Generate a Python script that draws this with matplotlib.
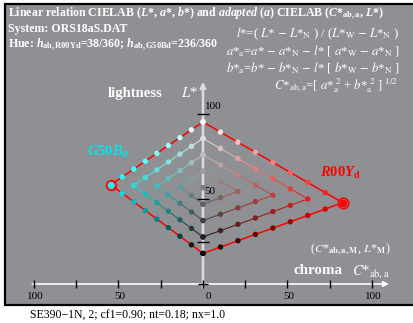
import numpy as np
import matplotlib.pyplot as plt
from matplotlib.patches import Rectangle

plt.rcParams['font.family'] = ['Liberation Serif', 'DejaVu Serif']
plt.rcParams['mathtext.fontset'] = 'custom'
plt.rcParams['mathtext.rm'] = 'Liberation Serif:weight=bold'
plt.rcParams['mathtext.bf'] = 'Liberation Serif:weight=bold'
plt.rcParams['mathtext.it'] = 'Liberation Serif:weight=bold:style=italic'

# hue vertices (C*ab,a , L*)
hue_names = ["R00Yd", "G50Bd"]
hue_C = [82.7, -54.6]
hue_L = [47.8, 58.4]
hue_rgb = [(1.0, 0.0, 0.0), (0.0, 1.0, 1.0)]
L_white = 95.3
L_black = 18.0
nsteps = 4

x_ticks = [-100, -75, -50, -25, 0, 25, 50, 75, 100]
x_labels = ["100", "", "50", "", "0", "", "50", "", "100"]
y_ticks = [25, 50, 100]
y_labels = ["", "50", "100"]

BG = '#8f9094'
W, H = 413, 323


def main():
    fig = plt.figure(figsize=(W / 100, H / 100), dpi=100)
    fig.patch.set_facecolor('white')
    ax = fig.add_axes([0, 0, 1, 1])
    ax.set_xlim(-203 / 1.69, (W - 203) / 1.69)
    ax.set_ylim((284 - H) / 1.7, 284 / 1.7)
    ax.axis('off')

    # grey frame
    ax.add_patch(Rectangle((-117.2, -12.4), 250, 177.1, facecolor=BG,
                           edgecolor='black', lw=1.6, zorder=0))

    # axes
    ax.annotate('', xy=(110, 0), xytext=(-101, 0),
                arrowprops=dict(arrowstyle='-|>', color='white', lw=1.2,
                                mutation_scale=8, shrinkA=0, shrinkB=0), zorder=1)
    ax.annotate('', xy=(0, 119), xytext=(0, -2),
                arrowprops=dict(arrowstyle='-|>', color='#dcdcdc', lw=1.8,
                                mutation_scale=8, shrinkA=0, shrinkB=0), zorder=1)
    ax.plot(x_ticks, np.zeros(len(x_ticks)), '|', color='black', ms=6, mew=1, zorder=2)
    ax.plot([0], [0], '_', color='black', ms=7, mew=1, zorder=2)
    for t, s in zip(x_ticks, x_labels):
        if s:
            ax.text(t + (3 if t == 0 else 1), -7.5, s, ha='center', va='center',
                    fontsize=8, color='black')
    ax.plot(np.zeros(len(y_ticks)), y_ticks, '_', color='black', ms=8, mew=1, zorder=4)
    for t, s in zip(y_ticks, y_labels):
        if s:
            ax.text(1.0, t + 4.5, s, ha='left', va='center', fontsize=8, color='black')

    # point grids for the two hues
    L_mid = (L_white + L_black) / 2
    g = np.array([0.0, L_mid])
    wv = np.array([0.0, L_white]) - g
    for C, L, rgb in zip(hue_C, hue_L, hue_rgb):
        hv = np.array([C, L]) - g
        rgb = np.array(rgb)

        def pt(s, t):
            return g + s * hv + t * wv

        def col(s, t):
            return np.clip(0.5 + s * (rgb - 0.5) + t * 0.5, 0, 1)

        pts, cols = [pt(0, 0)], [col(0, 0)]
        for k in range(1, nsteps + 1):
            n = 2 * k
            top = [(m / (2 * nsteps), k / nsteps - m / (2 * nsteps)) for m in range(n + 1)]
            bot = [(k / nsteps - m / (2 * nsteps), -m / (2 * nsteps)) for m in range(1, n + 1)]
            path = top + bot
            xy = np.array([pt(s, t) for s, t in path])
            if k == nsteps:
                ax.plot(xy[:, 0], xy[:, 1], color='red', lw=1.1, zorder=3)
            else:
                for i in range(len(path) - 1):
                    s = (path[i][0] + path[i + 1][0]) / 2
                    t = (path[i][1] + path[i + 1][1]) / 2
                    ax.plot(xy[i:i + 2, 0], xy[i:i + 2, 1], color=col(s, t), lw=0.8, zorder=3)
            for s, t in path:
                pts.append(pt(s, t))
                cols.append(col(s, t))
        pts = np.array(pts)
        ax.scatter(pts[:, 0], pts[:, 1], s=15, c=cols, linewidths=0, zorder=5)

    # hue vertex markers
    ax.plot(hue_C[0], hue_L[0], 'o', ms=7.5, mfc='none', mec='red', mew=1.2, zorder=6)
    ax.plot(hue_C[0], hue_L[0], 'o', ms=4.5, color='red', zorder=6)
    ax.plot(hue_C[1], hue_L[1], 'o', ms=7, mfc='none', mec='red', mew=1.2, zorder=6)
    ax.plot(hue_C[1], hue_L[1], 'o', ms=3.5, color=hue_rgb[1], zorder=6)

    # texts (figure pixel positions)
    def ft(x, y, s, **kw):
        fig.text(x / W, 1 - y / H, s, **kw)

    bold = dict(color='white', fontweight='bold', fontsize=8.6, math_fontfamily='custom',
                va='baseline', ha='left')
    ft(8, 17, r"Linear relation CIELAB ($L$*, $a$*, $b$*) and $adapted$ ($a$) CIELAB ($C$*$_{\rm ab,a}$, $L$*)", **bold)
    ft(8, 32, "System: ORS18aS.DAT", **bold)
    ft(8, 48, r"Hue: $h_{\rm ab,R00Yd}$=38/360; $h_{\rm ab,G50Bd}$=236/360", **bold)

    fm = dict(color='white', fontsize=9.2, math_fontfamily='stix', va='baseline', ha='right')
    ft(399, 37, r"$l$*=( $L$* $-$ $L$*$_{\rm N}$ ) / ($L$*$_{\rm W}$ $-$ $L$*$_{\rm N}$ )", **fm)
    ft(400, 55, r"$a$*$_{\rm a}$=$a$* $-$ $a$*$_{\rm N}$ $-$ $l$* [ $a$*$_{\rm W}$ $-$ $a$*$_{\rm N}$ ]", **fm)
    ft(400, 72, r"$b$*$_{\rm a}$=$b$* $-$ $b$*$_{\rm N}$ $-$ $l$* [ $b$*$_{\rm W}$ $-$ $b$*$_{\rm N}$ ]", **fm)
    ft(398, 89, r"$C$*$_{\rm ab,a}$=[ $a$*$_{\rm a}^{\ 2}$ + $b$*$_{\rm a}^{\ 2}$ ] $^{1/2}$", **fm)

    ft(108, 97, "lightness", color='white', fontweight='bold', fontsize=10.5, va='baseline')
    ft(181, 97, r"$L$*", color='white', fontsize=10.5, math_fontfamily='stix', va='baseline')
    ft(87, 156, r"$G50B_{\rm d}$", color='#00e6e6', fontsize=10.5, math_fontfamily='custom', va='baseline')
    ft(320, 177, r"$R00Y_{\rm d}$", color='red', fontsize=10.5, math_fontfamily='custom', va='baseline')
    ft(310, 252, r"($C$*$_{\bf ab,a,M}$, $L$*$_{\bf M}$)", color='white', fontsize=8.8,
       math_fontfamily='stix', va='baseline')
    ft(293, 274, "chroma", color='white', fontweight='bold', fontsize=10.8, va='baseline')
    ft(352, 274, r"$C$*$_{\rm ab,a}$", color='white', fontsize=10.5, math_fontfamily='stix', va='baseline')
    ft(30, 319, "SE390\u22121N, 2; cf1=0.90; nt=0.18; nx=1.0", color='black', fontsize=8.5, va='baseline')

    plt.savefig("out.png", dpi=100)


if __name__ == "__main__":
    main()
